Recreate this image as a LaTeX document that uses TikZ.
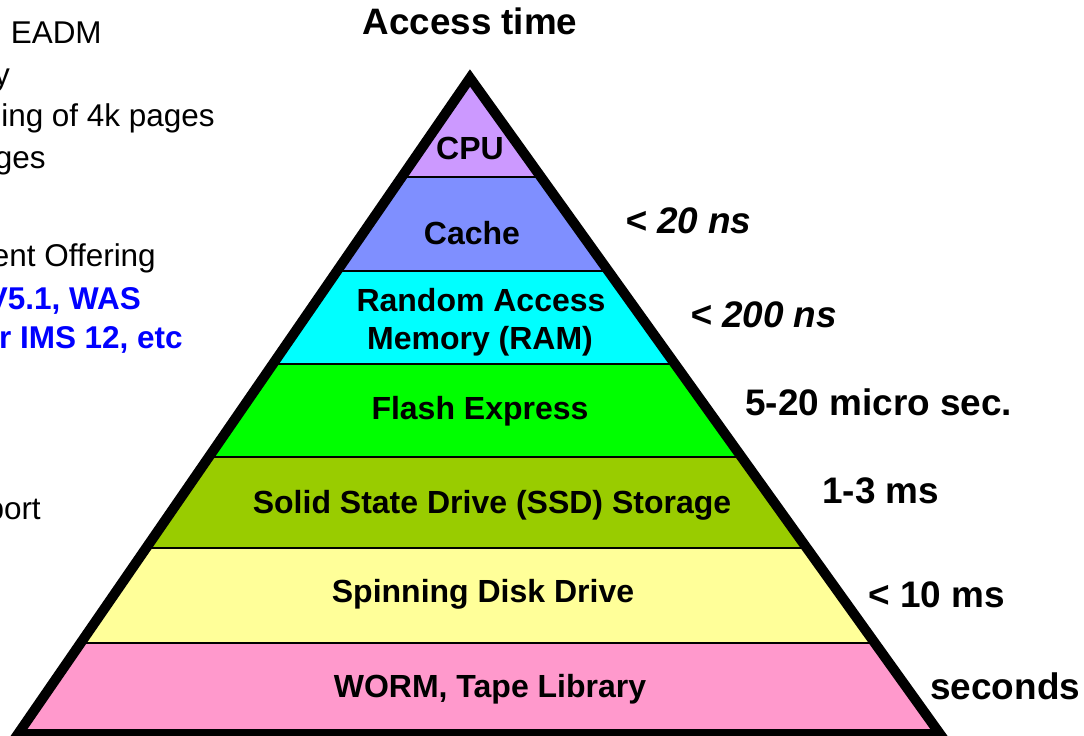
\documentclass[tikz,border=0pt]{standalone}
\usepackage{fontspec}
\setmainfont{Liberation Sans}
\usepackage{tikz}
\definecolor{cpuc}{HTML}{CC99FF}
\definecolor{cachec}{HTML}{7F8FFF}
\definecolor{ramc}{HTML}{00FFFF}
\definecolor{flashc}{HTML}{00FF00}
\definecolor{ssdc}{HTML}{99CC00}
\definecolor{diskc}{HTML}{FFFF99}
\definecolor{wormc}{HTML}{FF99CC}
\definecolor{bluec}{HTML}{0000FF}
\tikzstyle{band}=[font=\fontsize{24}{28}\selectfont\bfseries,anchor=base,inner sep=0pt]
\tikzstyle{tm}=[font=\fontsize{27.7}{32}\selectfont\bfseries,anchor=base west,inner sep=0pt]
\tikzstyle{note}=[font=\fontsize{23.6}{28}\selectfont,anchor=base east,inner sep=0pt]
\tikzstyle{bnote}=[note,font=\fontsize{23.6}{28}\selectfont\bfseries,text=bluec]
\tikzstyle{sep}=[line width=1.5pt]
\tikzstyle{outline}=[line width=7.5pt,line join=miter]

\begin{document}
\begin{tikzpicture}[x=0.75pt,y=-0.75pt]
            \useasboundingbox (0,0) rectangle (1084,735);
            \coordinate (top) at (470,78);
            \coordinate (bl) at (18,734);
            \coordinate (br) at (940,734);
            % layers of the pyramid
            \begin{scope}
                \clip (top) -- (br) -- (bl) -- cycle;
                \fill[cpuc] (0,60) rectangle (1084,177);
                \fill[cachec] (0,177) rectangle (1084,271);
                \fill[ramc] (0,271) rectangle (1084,364);
                \fill[flashc] (0,364) rectangle (1084,457);
                \fill[ssdc] (0,457) rectangle (1084,548);
                \fill[diskc] (0,548) rectangle (1084,643);
                \fill[wormc] (0,643) rectangle (1084,740);
                \foreach \y in {177,271,364,457,548,643}
                    \draw[sep] (0,\y) -- (1084,\y);
            \end{scope}
            \draw[outline] (top) -- (br) -- (bl) -- cycle;
            % labels of the layers
            \node[band] (cpu) at (470,159) {CPU};
            \node[band] (cache) at (472,244) {Cache};
            \node[band] (ram1) at (481,311) {Random Access};
            \node[band] (ram2) at (480,349) {Memory (RAM)};
            \node[band] (flash) at (480,419) {Flash Express};
            \node[band] (ssd) at (492,513) {Solid State Drive (SSD) Storage};
            \node[band] (disk) at (483,602) {Spinning Disk Drive};
            \node[band] (worm) at (490,697) {WORM, Tape Library};
            % access times
            \node[font=\fontsize{27.6}{32}\selectfont\bfseries,anchor=base,inner sep=0pt] (title) at (470,35) {Access time};
            \node[tm,font=\fontsize{27.7}{32}\selectfont\bfseries\itshape] (t1) at (625,233) {< 20 ns};
            \node[tm,font=\fontsize{27.7}{32}\selectfont\bfseries\itshape] (t2) at (690,327) {< 200 ns};
            \node[tm] (t3) at (745,415) {5-20 micro sec.};
            \node[tm] (t4) at (822,503) {1-3 ms};
            \node[tm] (t5) at (868,607) {< 10 ms};
            \node[tm] (t6) at (930,699) {seconds};
            % text cut off at the left
            \node[note] (n1) at (102,44) {l EADM};
            \node[note] (n2) at (10,85) {y};
            \node[note] (n3) at (215,126) {ing of 4k pages};
            \node[note] (n4) at (46,168) {ges};
            \node[note] (n5) at (156,266) {ent Offering};
            \node[bnote] (n6) at (141,309) {V5.1, WAS};
            \node[bnote] (n7) at (183,348) {r IMS 12, etc};
            \node[note] (n8) at (41,519) {port};
        \end{tikzpicture}
\end{document}
